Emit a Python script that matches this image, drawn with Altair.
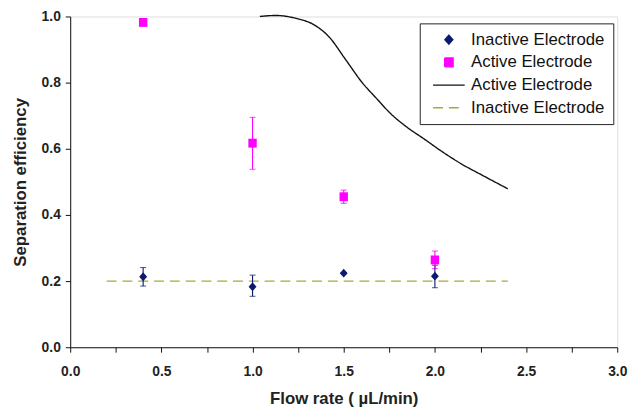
import altair as alt
import pandas as pd

flow = [0.4, 1.0, 1.5, 2.0]
inactive_eff = [0.213, 0.183, 0.224, 0.215]
inactive_lo = [0.185, 0.154, 0.224, 0.180]
inactive_hi = [0.241, 0.218, 0.224, 0.248]
active_eff = [0.982, 0.617, 0.455, 0.264]
active_lo = [0.982, 0.538, 0.435, 0.238]
active_hi = [0.982, 0.695, 0.475, 0.291]

model_x = [1.04, 1.13, 1.24, 1.33, 1.42, 1.51, 1.60, 1.68, 1.76, 1.85, 1.94, 2.03, 2.14, 2.27, 2.40]
model_y = [1.0, 1.003, 0.994, 0.977, 0.938, 0.870, 0.801, 0.752, 0.705, 0.664, 0.630, 0.595, 0.556, 0.517, 0.479]
base_x = [0.2, 2.4]
base_y = [0.2, 0.2]

keys = ["A", "B", "C", "D"]
names = ["Inactive Electrode", "Active Electrode", "Active Electrode", "Inactive Electrode"]
colors = ["#0a1a6e", "#ff00ff", "#111111", "#a8a83a"]
shapes = [
    "M0,-0.9L0.8,0L0,0.9L-0.8,0Z",
    "M-0.85,-0.9H0.85V0.9H-0.85Z",
    "M-3.2,0H3.2",
    "M-3.2,0H3.2",
]
dashes = [[1, 0], [1, 0], [1, 0], [10, 6]]

pts = pd.DataFrame({
    "x": flow + flow,
    "y": inactive_eff + active_eff,
    "lo": inactive_lo + active_lo,
    "hi": inactive_hi + active_hi,
    "s": ["A"] * 4 + ["B"] * 4,
})
lines = pd.DataFrame({
    "x": model_x + base_x,
    "y": model_y + base_y,
    "s": ["C"] * len(model_x) + ["D"] * len(base_x),
})

label_map = "{" + ",".join(f"'{k}':'{n}'" for k, n in zip(keys, names)) + "}"
label_expr = label_map + "[datum.label]"

xs = alt.Scale(domain=[0, 3], nice=False)
ys = alt.Scale(domain=[0, 1], nice=False)
cs = alt.Scale(domain=keys, range=colors)
ss = alt.Scale(domain=keys, range=shapes)
ds = alt.Scale(domain=keys, range=dashes)

legend = alt.Legend(
    title=None, orient="none", legendX=354, legendY=7,
    labelExpr=label_expr, labelFont="Liberation Sans", labelFontSize=17,
    labelColor="#111", strokeColor="#222", padding=8, rowPadding=5,
    symbolSize=100, symbolStrokeWidth=1.4, fillColor="white",
    symbolOffset=13, labelOffset=14,
)

common_ax = dict(
    grid=False, tickSize=5, domainColor="#111", tickColor="#111", labelFlush=False,
    labelFont="Liberation Sans", labelFontWeight="bold", labelFontSize=14, labelColor="#222",
    titleFont="Liberation Sans", titleFontWeight="bold", titleFontSize=17, titleColor="#222",
)
xax = alt.Axis(
    title="Flow rate ( µL/min)", values=[i * 0.25 for i in range(13)],
    labelExpr="round(datum.value*4) % 2 == 0 ? format(datum.value, '.1f') : ''",
    titlePadding=12, labelPadding=13, **common_ax,
)
yax = alt.Axis(
    title="Separation efficiency", values=[i * 0.1 for i in range(11)],
    labelExpr="round(datum.value*10) % 2 == 0 ? format(datum.value, '.1f') : ''",
    titlePadding=12, labelPadding=5, **common_ax,
)

base_pts = alt.Chart(pts)
err = base_pts.mark_errorbar(ticks=alt.MarkConfig(size=6), thickness=1.1).encode(
    x=alt.X("x:Q", scale=xs, axis=xax),
    y=alt.Y("lo:Q", scale=ys, axis=yax),
    y2="hi:Q",
    color=alt.Color("s:N", scale=cs, legend=None),
)
marks = base_pts.mark_point(filled=True, opacity=1).encode(
    x=alt.X("x:Q", scale=xs),
    y=alt.Y("y:Q", scale=ys),
    color=alt.Color("s:N", scale=cs, legend=legend),
    shape=alt.Shape("s:N", scale=ss, legend=legend),
    size=alt.value(100),
)
ln = alt.Chart(lines).mark_line(strokeWidth=1.4, interpolate="monotone").encode(
    x=alt.X("x:Q", scale=xs),
    y=alt.Y("y:Q", scale=ys),
    color=alt.Color("s:N", scale=cs, legend=legend),
    strokeDash=alt.StrokeDash("s:N", scale=ds, legend=legend),
)

chart = alt.layer(ln, err, marks).properties(
    width=554, height=335,
    autosize=alt.AutoSizeParams(type="none"),
    padding={"left": 63, "top": 6, "right": 19, "bottom": 63},
).configure_view(stroke="#111", strokeWidth=1).configure(background="white")

chart.save("out.html", embed_options={"renderer": "svg", "actions": False})
